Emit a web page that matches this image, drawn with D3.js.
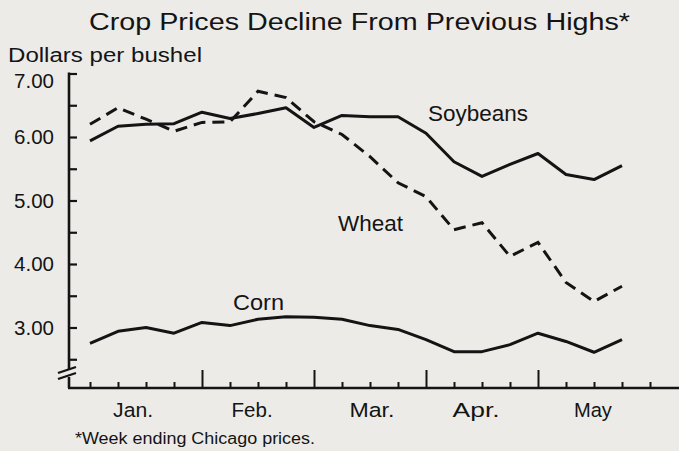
<!DOCTYPE html>
<html><head><meta charset="utf-8">
<script src="https://cdn.jsdelivr.net/npm/d3@7"></script>
<style>
html,body{margin:0;padding:0;background:#ecebe8;}
svg{display:block;font-family:"Liberation Sans",Arial,sans-serif;}
</style></head>
<body><svg id="c" width="679" height="451"></svg>
<script>
const weeks = d3.range(0, 20);
const soybeans = [5.94,6.17,6.20,6.21,6.39,6.29,6.37,6.46,6.15,6.34,6.32,6.32,6.06,5.61,5.38,5.57,5.74,5.41,5.33,5.55];
const wheat    = [6.20,6.46,6.28,6.09,6.23,6.24,6.72,6.62,6.24,6.04,5.69,5.28,5.06,4.54,4.65,4.12,4.34,3.71,3.41,3.65];
const corn     = [2.75,2.94,3.00,2.91,3.08,3.03,3.13,3.17,3.16,3.13,3.03,2.97,2.81,2.62,2.62,2.73,2.91,2.78,2.61,2.81];
const yTickValues = [2.5,3,3.5,4,4.5,5,5.5,6,6.5,7];
const yTickLabels = ["3.00","4.00","5.00","6.00","7.00"];
const monthLabels = ["Jan.","Feb.","Mar.","Apr.","May"];
const monthCenters = [1.54,5.79,10.07,13.79,17.96];
const weekTicks = d3.range(0, 21);
const monthStarts = [4,8,12,16];

const svg = d3.select("#c");
const ink = "#141414";
const x = d3.scaleLinear().domain([0,19]).range([90,622]);
const y = d3.scaleLinear().domain([3,7]).range([327.5,73.5]);
const axisX = 69, baseY = 388;

function txt(s, px, py, size, len, anchor) {
  const t = svg.append("text").attr("x",px).attr("y",py).attr("font-size",size)
    .attr("fill",ink).attr("text-anchor",anchor||"start").text(s);
  if (len) t.attr("textLength",len).attr("lengthAdjust","spacingAndGlyphs");
  return t;
}

// title and unit
txt("Crop Prices Decline From Previous Highs*", 89, 30, 23.5, 541);
txt("Dollars per bushel", 8, 62, 20, 194);

// y axis
const ya = svg.append("g").attr("transform",`translate(${axisX},0)`)
  .call(d3.axisLeft(y).tickValues(yTickValues).tickSize(-8).tickFormat(""));
ya.select(".domain").remove();
ya.selectAll(".tick line").attr("stroke",ink).attr("stroke-width",2.2);
svg.selectAll(".ylab").data(yTickLabels).join("text").attr("class","ylab")
  .attr("x",54).attr("y",d=>y(+d)+7+(+d===7?7:0)).attr("text-anchor","end")
  .attr("font-size",20.5).attr("fill",ink).text(d=>d);
// axis vertical with break
svg.append("line").attr("x1",axisX).attr("x2",axisX).attr("y1",y(7)-1).attr("y2",369).attr("stroke",ink).attr("stroke-width",2.6);
svg.append("line").attr("x1",axisX).attr("x2",axisX).attr("y1",377).attr("y2",baseY).attr("stroke",ink).attr("stroke-width",2.6);
svg.append("line").attr("x1",58).attr("x2",76).attr("y1",373).attr("y2",367).attr("stroke",ink).attr("stroke-width",2.2);
svg.append("line").attr("x1",58).attr("x2",76).attr("y1",379).attr("y2",373).attr("stroke",ink).attr("stroke-width",2.2);

// x axis
svg.append("line").attr("x1",axisX-1).attr("x2",679).attr("y1",baseY).attr("y2",baseY).attr("stroke",ink).attr("stroke-width",2.6);
const xa = svg.append("g").attr("transform",`translate(0,${baseY})`)
  .call(d3.axisBottom(x).tickValues(weekTicks).tickSize(-6).tickFormat(""));
xa.select(".domain").remove();
xa.selectAll(".tick line").attr("stroke",ink).attr("stroke-width",2)
  .attr("y2",d=>monthStarts.includes(d)?-18:-6);
const monthWidths = [40,41,45,47,38];
monthLabels.forEach((m,i)=>txt(m, x(monthCenters[i]), 417, 20.5, monthWidths[i], "middle"));

// lines
const line = d3.line().x((d,i)=>x(weeks[i])).y(d=>y(d));
svg.append("path").datum(soybeans).attr("d",line).attr("fill","none").attr("stroke",ink).attr("stroke-width",3).attr("stroke-linejoin","round");
svg.append("path").datum(corn).attr("d",line).attr("fill","none").attr("stroke",ink).attr("stroke-width",3).attr("stroke-linejoin","round");
svg.append("path").datum(wheat).attr("d",line).attr("fill","none").attr("stroke",ink).attr("stroke-width",3).attr("stroke-dasharray","12,7");

// series labels
txt("Soybeans", 428, 121, 22, 100);
txt("Wheat", 338, 231, 22, 65);
txt("Corn", 233, 310, 22, 51);

// footnote
txt("*Week ending Chicago prices.", 75, 444, 16, 240);
</script></body></html>
